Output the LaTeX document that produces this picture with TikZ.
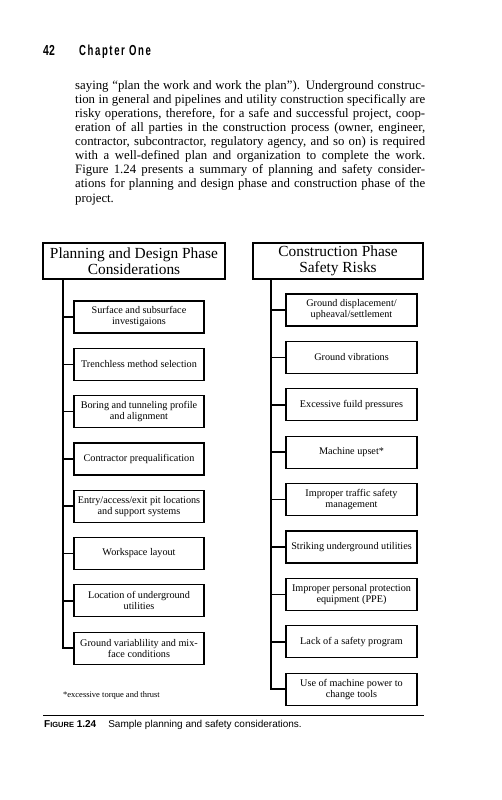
\documentclass[tikz,border=0pt]{standalone}
\usepackage{fontspec}
\setmainfont{Liberation Serif}
\setsansfont{Liberation Sans}
\newfontfamily\runfont[FakeStretch=0.72]{Liberation Sans}
\newfontfamily\runspaced[FakeStretch=0.66,LetterSpace=11]{Liberation Sans}
\newcommand{\pline}[1]{\makebox[350pt][s]{#1}}

\begin{document}
\begin{tikzpicture}
                \tikzset{x=1pt, y=-1pt}
                \tikzstyle{phase}=[rectangle, draw, line width=1.3pt, minimum height=36pt, inner sep=1pt, align=center, font=\fontsize{15.4}{15.5}\selectfont]
                \tikzstyle{item}=[rectangle, draw, line width=1.2pt, minimum width=130pt, minimum height=32pt, inner sep=1pt, align=center, font=\fontsize{10.2}{11}\selectfont]
                \tikzstyle{branch}=[line width=1.6pt]
                \tikzstyle{textline}=[anchor=base west, inner sep=0pt, font=\fontsize{12.8}{14}\selectfont]

                \useasboundingbox (0,0) rectangle (501,800);

                % running head and text
                \draw (43, 55.5)    node[anchor=base west, inner sep=0pt] (pageno)  {\fontsize{14.5}{15}\runfont\bfseries 42};
                \draw (79, 55.5)    node[anchor=base west, inner sep=0pt] (chapter) {\fontsize{14.5}{15}\runspaced\bfseries Chapter One};

                \draw (75, 89.0)    node[textline]  (t1)    {\pline{saying ``plan the work and work the plan''). Underground construc-}};
                \draw (75, 103.1)   node[textline]  (t2)    {\pline{tion in general and pipelines and utility construction specifically are}};
                \draw (75, 117.2)   node[textline]  (t3)    {\pline{risky operations, therefore, for a safe and successful project, coop-}};
                \draw (75, 131.4)   node[textline]  (t4)    {\pline{eration of all parties in the construction process (owner, engineer,}};
                \draw (75, 145.5)   node[textline]  (t5)    {\pline{contractor, subcontractor, regulatory agency, and so on) is required}};
                \draw (75, 159.6)   node[textline]  (t6)    {\pline{with a well-defined plan and organization to complete the work.}};
                \draw (75, 173.7)   node[textline]  (t7)    {\pline{Figure 1.24 presents a summary of planning and safety consider-}};
                \draw (75, 187.8)   node[textline]  (t8)    {\pline{ations for planning and design phase and construction phase of the}};
                \draw (75, 202.0)   node[textline]  (t9)    {project.};

                % planning and design phase
                \draw (134, 261)    node[phase, minimum width=182pt] (plan) {Planning and Design Phase\\Considerations};
                \draw (139, 317.0)  node[item]      (p1)    {Surface and subsurface\\investigaions};
                \draw (139, 364.3)  node[item]      (p2)    {Trenchless method selection};
                \draw (139, 411.6)  node[item]      (p3)    {Boring and tunneling profile\\and alignment};
                \draw (139, 458.9)  node[item]      (p4)    {Contractor prequalification};
                \draw (139, 506.2)  node[item]      (p5)    {Entry/access/exit pit locations\\and support systems};
                \draw (139, 553.5)  node[item]      (p6)    {Workspace layout};
                \draw (139, 600.8)  node[item]      (p7)    {Location of underground\\utilities};
                \draw (139, 648.1)  node[item]      (p8)    {Ground variablility and mix-\\face conditions};

                % construction phase
                \draw (338, 261)    node[phase, minimum width=170pt] (build) {Construction Phase\\Safety Risks};
                \draw (351.5, 310.0) node[item, minimum width=131pt] (c1) {Ground displacement/\\upheaval/settlement};
                \draw (351.5, 357.4) node[item, minimum width=131pt] (c2) {Ground vibrations};
                \draw (351.5, 404.8) node[item, minimum width=131pt] (c3) {Excessive fuild pressures};
                \draw (351.5, 452.2) node[item, minimum width=131pt] (c4) {Machine upset*};
                \draw (351.5, 499.6) node[item, minimum width=131pt] (c5) {Improper traffic safety\\management};
                \draw (351.5, 547.0) node[item, minimum width=131pt] (c6) {Striking underground utilities};
                \draw (351.5, 594.4) node[item, minimum width=131pt] (c7) {Improper personal protection\\equipment (PPE)};
                \draw (351.5, 641.8) node[item, minimum width=131pt] (c8) {Lack of a safety program};
                \draw (351.5, 689.2) node[item, minimum width=131pt] (c9) {Use of machine power to\\change tools};

                \draw (63, 279)     coordinate      (ptrunk);
                \draw (271, 279)    coordinate      (ctrunk);

                \draw [branch]      (ptrunk) |- (p1.west);
                \draw [branch]      (ptrunk) |- (p2.west);
                \draw [branch]      (ptrunk) |- (p3.west);
                \draw [branch]      (ptrunk) |- (p4.west);
                \draw [branch]      (ptrunk) |- (p5.west);
                \draw [branch]      (ptrunk) |- (p6.west);
                \draw [branch]      (ptrunk) |- (p7.west);
                \draw [branch]      (ptrunk) |- (p8.west);

                \draw [branch]      (ctrunk) |- (c1.west);
                \draw [branch]      (ctrunk) |- (c2.west);
                \draw [branch]      (ctrunk) |- (c3.west);
                \draw [branch]      (ctrunk) |- (c4.west);
                \draw [branch]      (ctrunk) |- (c5.west);
                \draw [branch]      (ctrunk) |- (c6.west);
                \draw [branch]      (ctrunk) |- (c7.west);
                \draw [branch]      (ctrunk) |- (c8.west);
                \draw [branch]      (ctrunk) |- (c9.west);

                % footnote and caption
                \draw (63, 697)     node[anchor=base west, inner sep=0pt, font=\fontsize{8.5}{10}\selectfont] (note) {*excessive torque and thrust};
                \draw [line width=0.9pt] (43, 715) -- (424, 715);
                \draw (44, 727)     node[anchor=base west, inner sep=0pt, font=\sffamily\fontsize{10}{12}\selectfont] (caption)
                                    {\textbf{F{\fontsize{7.5}{9}\selectfont IGURE} 1.24}\hspace{12pt}Sample planning and safety considerations.};
            \end{tikzpicture}
\end{document}
